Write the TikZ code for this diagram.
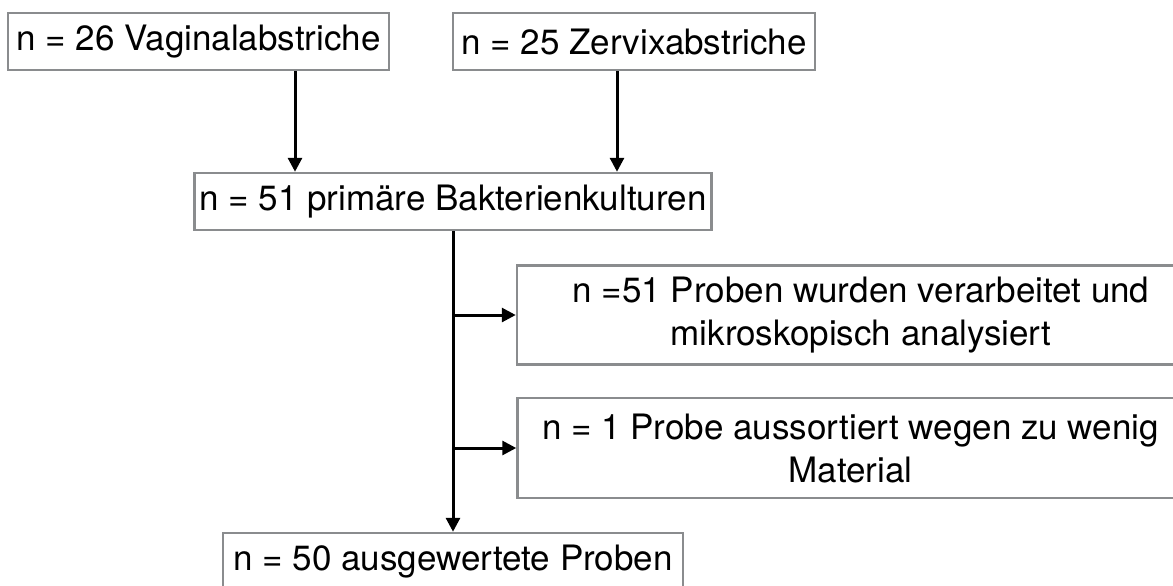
\documentclass[tikz,border=0pt]{standalone}
\usepackage{fontspec}
\setmainfont{TeX Gyre Heros}
\usetikzlibrary{arrows.meta}
\definecolor{boxgray}{HTML}{8A8C8E}

\begin{document}
\begin{tikzpicture}[x=0.5pt, y=-0.5pt, every node/.style={font=\fontsize{17.5}{21.5}\selectfont}]
\tikzset{box/.style={draw=boxgray, line width=1.25pt, align=center, inner sep=0pt, minimum height=28.5pt}}
\tikzset{arrow/.style={-{Triangle[length=7pt, width=7pt]}, line width=1.5pt}}
\useasboundingbox (0,0) rectangle (1173,585);
\node[box, minimum width=190.5pt] (vag) at (198.5,41.5) {n = 26 Vaginalabstriche};
\node[box, minimum width=181pt] (zerv) at (634,41.5) {n = 25 Zervixabstriche};
\node[box, minimum width=258.5pt] (kult) at (453,201.5) {n = 51 primäre Bakterienkulturen};
\node[box, minimum width=344pt, minimum height=49.5pt] (verarb) at (861,315) {n =51 Proben wurden verarbeitet und\\mikroskopisch analysiert};
\node[box, minimum width=333pt, minimum height=50pt] (aussort) at (850.5,448) {n = 1 Probe aussortiert wegen zu wenig\\Material};
\node[box, minimum width=230pt] (ausw) at (453,561.5) {n = 50 ausgewertete Proben};
\draw[arrow] ([shift={(96.5,0)}]vag.south) -- ([shift={(96.5,0)}]vag.south |- kult.north);
\draw[arrow] ([shift={(-17,0)}]zerv.south) -- ([shift={(-17,0)}]zerv.south |- kult.north);
\draw[arrow] (kult.south) -- (ausw.north);
\draw[arrow] (kult.south |- verarb.west) -- (verarb.west);
\draw[arrow] (kult.south |- aussort.west) -- (aussort.west);
\end{tikzpicture}
\end{document}
